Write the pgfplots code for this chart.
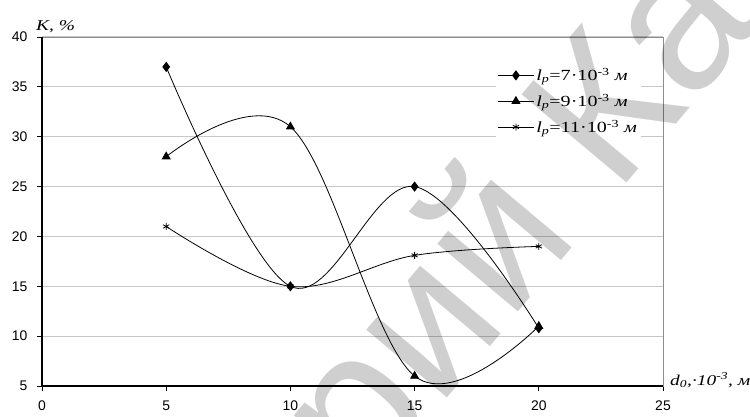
\documentclass[border=0pt]{standalone}
\usepackage{pgfplots}
\pgfplotsset{compat=1.18}
\usepackage{fontspec}
\setmainfont{Liberation Serif}
\newfontfamily\arial{Liberation Sans}
\newfontfamily\tnr[FakeStretch=1.3]{Liberation Serif}

\begin{document}
\begin{tikzpicture}
\begin{axis}[
  at={(0,0)}, anchor=south west,
  width=621bp, height=349bp, scale only axis,
  xmin=0, xmax=25, ymin=5, ymax=40,
  clip=false,
  xtick={0,5,...,25}, ytick={5,10,...,40},
  xtick pos=left, ytick pos=left,
  axis line style={draw=black!45, line width=0.8bp},
  ymajorgrids, grid style={black!22, line width=1.2bp},
  tick align=outside, major tick length=5bp,
  tick style={black, line width=0.8bp},
  ticklabel style={font=\arial\fontsize{14}{14}\selectfont},
  /pgf/number format/assume math mode=true,
  xticklabel style={yshift=-6bp}, yticklabel style={xshift=-6bp},
  legend style={at={(rel axis cs:0.73,0.922)}, anchor=north west,
    draw=none, fill=white, font=\tnr\fontsize{15.5}{15.5}\selectfont,
    row sep=8bp, inner sep=2bp},
  legend cell align=left,
  legend image code/.code={\draw[mark repeat=2, mark phase=2]
    plot coordinates {(0bp,0bp)(18bp,0bp)(36bp,0bp)};},
]
% l_p = 7e-3 m
\addplot[black, line width=0.8bp, smooth, tension=0.6, mark=diamond*, mark size=4.5bp]
  coordinates {(5,37)(10,15)(15,25)(20,10.8)};
% l_p = 9e-3 m
\addplot[black, line width=0.8bp, smooth, tension=0.6, mark=triangle*, mark size=4.5bp]
  coordinates {(5,28)(10,31)(15,6)(20,11)};
% l_p = 11e-3 m
\addplot[black, line width=0.8bp, smooth, tension=0.6, mark=asterisk, mark size=3.5bp]
  coordinates {(5,21)(10,15)(15,18.1)(20,19)};
\legend{{\itshape l}\textsubscript{\itshape p}=7·10\textsuperscript{-3} {\itshape м},
        {\itshape l}\textsubscript{\itshape p}=9·10\textsuperscript{-3} {\itshape м},
        {\itshape l}\textsubscript{\itshape p}=11·10\textsuperscript{-3} {\itshape м}}
\draw[black, line width=1.5bp] (rel axis cs:0,1) -- (rel axis cs:0,0) -- (rel axis cs:1,0);
\node[anchor=base west, inner sep=0pt, xshift=-6bp, yshift=7bp, font=\tnr\itshape\fontsize{15}{15}\selectfont]
  at (rel axis cs:0,1) {K, \%};
\node[anchor=base west, inner sep=0pt, xshift=7bp, yshift=1bp, font=\tnr\itshape\fontsize{15}{15}\selectfont]
  at (rel axis cs:1,0) {d\textsubscript{0},·10\textsuperscript{-3}, м};
\end{axis}
% watermark
\node[rotate=50, text=black, text opacity=0.19, font=\arial\fontsize{200}{200}\selectfont]
  at (482bp,163bp) {рий Ка};
\pgfresetboundingbox
\path[use as bounding box] (-42bp,-31bp) rectangle (708bp,386bp);
\end{tikzpicture}
\end{document}
